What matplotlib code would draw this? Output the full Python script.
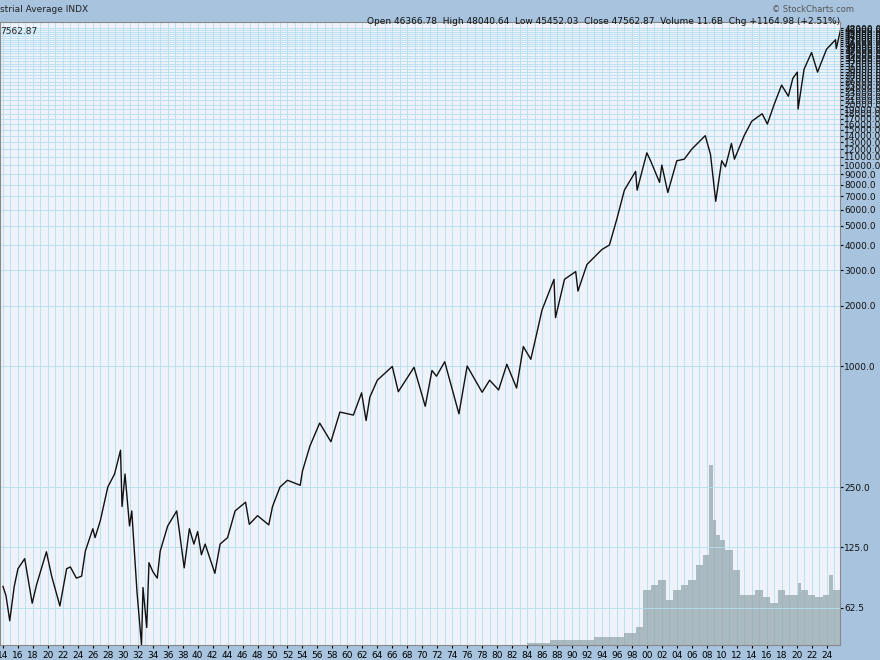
import matplotlib
matplotlib.use("Agg")
import matplotlib.pyplot as plt
import numpy as np

years = [1914.0,1914.4,1914.9,1915.5,1916.0,1916.9,1917.9,1918.5,1919.8,1920.5,1921.6,1922.5,1923.0,1923.8,1924.5,1925.0,1926.0,1926.3,1927.0,1928.0,1928.9,1929.7,1929.9,1930.3,1930.9,1931.2,1931.9,1932.5,1932.7,1933.2,1933.5,1934.0,1934.6,1935.0,1936.0,1937.2,1938.2,1938.9,1939.5,1940.0,1940.5,1941.0,1942.3,1943.0,1944.0,1945.0,1946.4,1946.9,1948.0,1949.5,1950.0,1951.0,1952.0,1953.7,1954.0,1955.0,1956.3,1957.8,1959.0,1960.8,1961.9,1962.5,1963.0,1964.0,1966.0,1966.8,1968.9,1970.4,1971.3,1971.9,1973.0,1974.9,1976.0,1977.0,1978.0,1979.0,1980.2,1981.3,1982.6,1983.5,1984.5,1985.0,1986.0,1987.6,1987.8,1989.0,1990.5,1990.8,1992.0,1994.0,1995.0,1996.0,1997.0,1998.5,1998.7,2000.0,2000.5,2001.7,2002.0,2002.8,2004.0,2005.0,2006.0,2007.8,2008.5,2009.2,2010.0,2010.5,2011.3,2011.7,2013.0,2014.0,2015.4,2016.1,2017.0,2018.0,2018.9,2019.5,2020.1,2020.2,2021.0,2022.0,2022.8,2024.0,2025.2,2025.3,2025.9]
dow = [80,72,54,80,98,110,66,82,119,90,64,98,100,88,90,120,155,140,170,250,290,381,200,290,160,190,75,41,79,50,105,95,88,120,160,190,99,155,130,150,115,130,93,130,140,190,210,163,180,162,200,250,270,255,300,400,520,420,590,570,735,535,700,850,995,745,985,630,950,890,1050,578,1000,860,740,850,760,1020,777,1250,1080,1300,1900,2700,1740,2700,2950,2360,3200,3800,4000,5400,7500,9300,7500,11500,10500,8200,10000,7300,10500,10700,12000,14000,11300,6600,10500,9800,12800,10700,14000,16500,18000,16000,20000,25000,22000,27000,29000,19000,30000,36300,29000,37700,42000,38000,47562]

vol_years = [1984,1990,1996,1998,1999,2000,2001,2002,2003,2004,2005,2006,2007,2008,2008.7,2009,2009.5,2010,2011,2012,2013,2014,2015,2016,2017,2018,2019,2020,2020.3,2021,2022,2023,2024,2024.7,2025,2025.9]
volume = [2,5,8,12,18,55,60,65,45,55,60,65,80,90,180,125,110,105,95,75,50,50,55,48,42,55,50,50,62,55,50,48,50,70,55,55]

price_ticks = [62.5,125,250,1000,2000,3000,4000,5000,6000,7000,8000,9000,10000,11000,12000,13000,14000,15000,16000,17000,18000,19000,20000,21000,22000,23000,24000,25000,26000,27000,28000,29000,30000,31000,32000,33000,34000,35000,36000,37000,38000,39000,40000,41000,42000,43000,44000,45000,46000,47000,48000]

BG = "#a7c3de"
GRID = "#b3e0f0"
rect = [0, 1-645/660, 840/880, (645-22)/660]
fig = plt.figure(figsize=(8.8,6.6), dpi=100, facecolor=BG)

axv = fig.add_axes(rect)
axv.set_facecolor("#eff2f9")
axv.set_xlim(1913.6, 2025.8)
axv.set_ylim(0, 623)
for y in range(1914, 2026):
    axv.axvline(y, color=GRID, lw=0.6, zorder=0)
axv.fill_between(vol_years, volume, step="mid", color="#8fa3a8", alpha=0.7, lw=0, zorder=2)
axv.set_xticks([]); axv.set_yticks([])
for s in axv.spines.values():
    s.set_visible(False)

ax = fig.add_axes(rect)
ax.patch.set_visible(False)
ax.set_yscale("log")
ax.set_xlim(1913.6, 2025.8)
ax.set_ylim(40.9, 51500)
for t in price_ticks:
    ax.axhline(t, color=GRID, lw=0.6, zorder=0)
ax.plot(years, dow, color="#111111", lw=1.0)

ax.yaxis.tick_right()
ax.set_yticks(price_ticks)
ax.set_yticklabels([f"{t:.1f}" for t in price_ticks], fontsize=6.5, color="#111")
ax.minorticks_off()
ax.set_xticks(range(1914, 2026, 2))
ax.set_xticklabels([f"{y%100:02d}" for y in range(1914, 2026, 2)], fontsize=6.5)
ax.tick_params(axis="both", length=2, pad=1)
ax.tick_params(axis="x", pad=2)
for s in ax.spines.values():
    s.set_color("#888")

fig.text(0.0, 0.985, "strial Average INDX", fontsize=6.5, va="center", color="#222")
fig.text(0.97, 0.985, "© StockCharts.com", fontsize=6, va="center", ha="right", color="#555")
fig.text(0.955, 0.968, "Open 46366.78  High 48040.64  Low 45452.03  Close 47562.87  Volume 11.6B  Chg +1164.98 (+2.51%)",
         fontsize=6.5, va="center", ha="right", color="#111")
ax.text(0.0, 0.985, "7562.87", transform=ax.transAxes, fontsize=6.5, va="center", color="#222")
fig.savefig("out.png", dpi=100, facecolor=BG)
